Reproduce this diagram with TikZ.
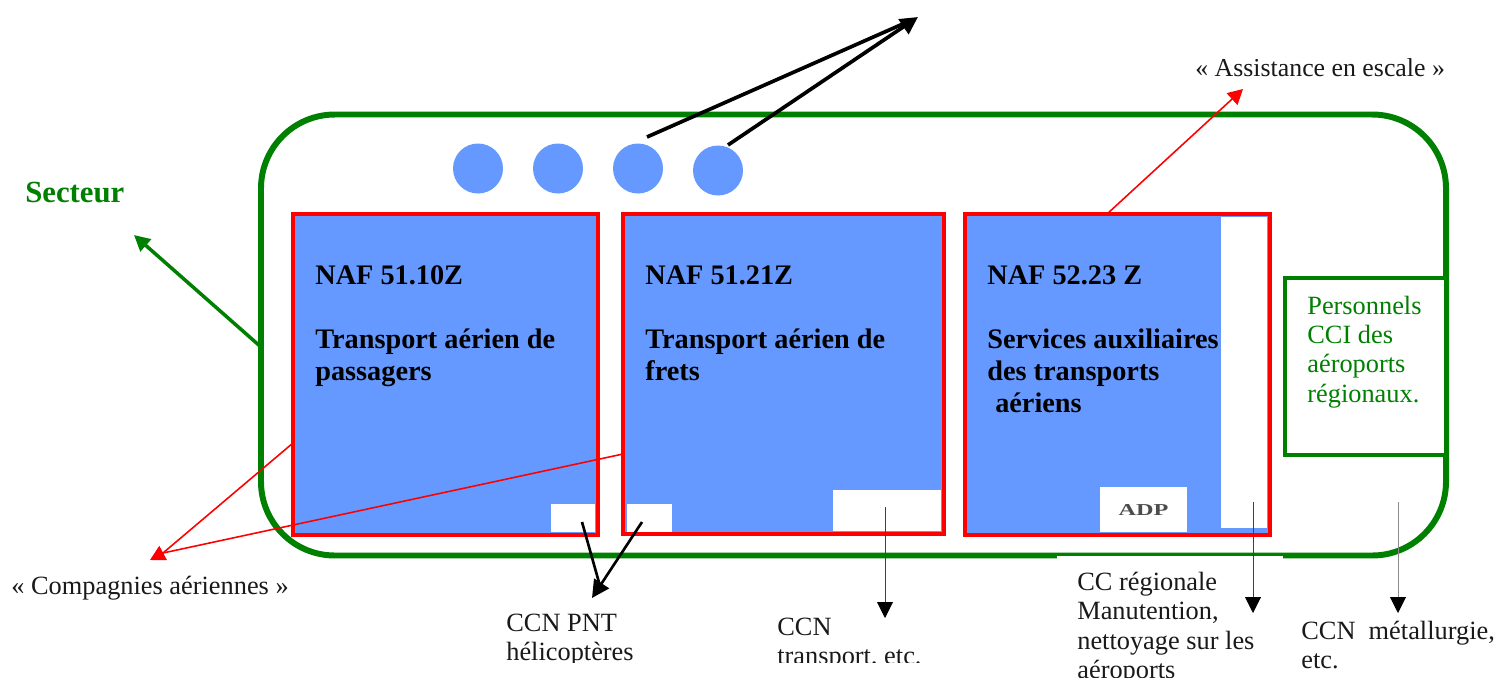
\documentclass[tikz,border=0pt]{standalone}
\usepackage{fontspec}
\setmainfont{Liberation Serif}
\usetikzlibrary{arrows.meta}
\definecolor{secteurgreen}{RGB}{0, 128, 0}
\definecolor{nafblue}{RGB}{102, 153, 255}
\definecolor{nafred}{RGB}{255, 0, 0}
\def\px{0.02cm}
\tikzstyle{nafbox} = [draw=nafred, line width=2.3pt, fill=nafblue, inner sep=0pt]
\tikzstyle{patch} = [fill=white, inner sep=0pt]
\tikzstyle{dot} = [circle, fill=nafblue, minimum size=50*\px, inner sep=0pt]
\tikzstyle{naftext} = [anchor=north west, inner sep=0pt, align=left, font=\fontsize{16.1}{18.2}\selectfont\bfseries]
\tikzstyle{note} = [anchor=north west, inner sep=0pt, align=left, text=black!90, font=\fontsize{15}{16.6}\selectfont]
\tikzstyle{blackarrow} = [line width=2.1pt, black, -{Triangle[length=10pt,width=10pt]}]
\tikzstyle{redarrow} = [line width=0.9pt, nafred, -{Triangle[length=8.5pt,width=9pt]}]
\tikzstyle{thinarrow} = [line width=0.5pt, black!75, -{Triangle[length=9pt,width=9pt,black]}]

\begin{document}
\begin{tikzpicture}[x=0.02cm, y=-0.02cm]
\useasboundingbox (0,0) rectangle (1498,677);

% Sector outline
\node[draw=secteurgreen, line width=3.4pt, rounded corners=42pt, minimum width=1185*\px, minimum height=441*\px, inner sep=0pt] (secteur) at (853.5,335) {};
\fill[white] (1057,556.2) rectangle (1283,559);

% NAF boxes
\node[nafbox, minimum width=305*\px, minimum height=321*\px] (nafa) at (445.5,374.5) {};
\node[nafbox, minimum width=321*\px, minimum height=320*\px] (nafb) at (783.5,374) {};
\node[nafbox, minimum width=305*\px, minimum height=321*\px] (nafc) at (1117.5,374.5) {};

% White patches
\foreach \name/\cx/\cy/\w/\h in {pa/573/518/44/28, pb/649.5/518/45/28, pc/887/510.5/108/41, pd/1244/372.5/46/311} {
    \node[patch, minimum width=\w*\px, minimum height=\h*\px] (\name) at (\cx,\cy) {};
}
\node[patch, minimum width=87*\px, minimum height=45*\px, text=black!70, font=\fontsize{9.5}{10}\selectfont\bfseries] (adp) at (1143.5,509.5) {\scalebox{1.45}[1]{ADP}};

% Circles
\foreach \i/\x/\y in {1/478/168.5, 2/558/168.5, 3/638/168.5, 4/718/170.5} {
    \node[dot] (dot\i) at (\x,\y) {};
}

% Personnel box
\node[draw=secteurgreen, line width=2.2pt, fill=white, minimum width=161*\px, minimum height=177*\px, inner sep=0pt] (pers) at (1365.5,366.5) {};

% Texts
\node[naftext] (ta) at (315,265.5) {NAF 51.10Z\\[18.2pt]Transport aérien de\\passagers};
\node[naftext] (tb) at (645,265.5) {NAF 51.21Z\\[18.2pt]Transport aérien de\\frets};
\node[naftext] (tc) at (987,265.5) {NAF 52.23 Z\\[18.2pt]Services auxiliaires\\des transports\\\hspace{4.5pt}aériens};
\node[note, text=secteurgreen] (tpers) at (1307,296) {Personnels\\CCI des\\aéroports\\régionaux.};
\node[naftext, text=secteurgreen, font=\fontsize{17.5}{20}\selectfont\bfseries] (tsect) at (25,182) {Secteur};
\node[note, font=\fontsize{14.7}{16.6}\selectfont] (tassist) at (1195,58) {« Assistance en escale »};
\node[note] (tcomp) at (11,576) {« Compagnies aériennes »};
\node[note] (tpnt) at (506,614) {CCN PNT\\hélicoptères};
\node[note] (ttrans) at (777,618) {CCN\\transport, etc.};
\node[note] (tcc) at (1077,572) {CC régionale\\Manutention,\\nettoyage sur les\\aéroports};
\node[note] (tmet) at (1301,621) {CCN\ \ métallurgie,\\etc.};
\fill[white] (500,662.5) rectangle (930,677);

% Connector ends
\foreach \name/\x/\y in {topa/647/137, topb/728/145, topjoin/905/23, toptip/918/17, asa/1107/214, astip/1243/89, seca/261/347, sectip/134/235,
    coa/293/443, cob/623/454, cojoin/163/553, cotip/150/560, pnta/582/522, pntb/642/522, pntjoin/600/586, pnttip/592/598,
    tra/885/507, trtip/885/618, cca/1253/502, cctip/1253/613, mea/1398/502, metip/1398/613} {
    \coordinate (\name) at (\x,\y);
}

% Arrows
\draw[line width=2.1pt] (topa) -- (topjoin);
\draw[blackarrow] (topb) -- (toptip);
\draw[redarrow] (asa) -- (astip);
\draw[line width=2pt, secteurgreen, -{Triangle[length=9pt,width=9pt]}] (seca) -- (sectip);
\draw[line width=0.9pt, nafred] (coa) -- (cojoin);
\draw[line width=0.9pt, nafred] (cob) -- (cojoin);
\draw[redarrow] (cojoin) -- (cotip);
\draw[line width=1.5pt] (pnta) -- (pntjoin);
\draw[line width=1.5pt, black, -{Triangle[length=10pt,width=10pt]}] (pntb) -- (pnttip);
\draw[thinarrow] (tra) -- (trtip);
\draw[thinarrow] (cca) -- (cctip);
\draw[thinarrow, black!45] (mea) -- (metip);
\end{tikzpicture}
\end{document}
